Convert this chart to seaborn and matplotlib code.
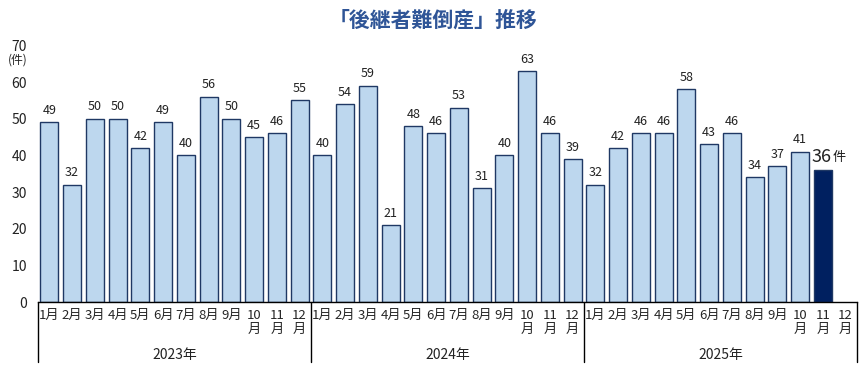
import matplotlib
matplotlib.use("Agg")
import matplotlib.pyplot as plt
import matplotlib.transforms as mtransforms
import seaborn as sns
import pandas as pd

years = ["2023年", "2024年", "2025年"]
months = ["1月", "2月", "3月", "4月", "5月", "6月", "7月", "8月", "9月", "10\n月", "11\n月", "12\n月"]
counts_2023 = [49, 32, 50, 50, 42, 49, 40, 56, 50, 45, 46, 55]
counts_2024 = [40, 54, 59, 21, 48, 46, 53, 31, 40, 63, 46, 39]
counts_2025 = [32, 42, 46, 46, 58, 43, 46, 34, 37, 41, 36, None]
latest_idx = 34

vals = counts_2023 + counts_2024 + counts_2025
df = pd.DataFrame({
    "slot": [str(i) for i in range(len(vals))],
    "count": vals,
    "kind": ["latest" if i == latest_idx else "normal" for i in range(len(vals))],
})

sns.set_style("white")
plt.rcParams["font.family"] = ["Noto Sans CJK JP", "DejaVu Sans"]

fig = plt.figure(figsize=(8.67, 3.78), dpi=100)
ax = fig.add_axes([0.0438, 0.201, 0.9447, 0.679])

light = "#bdd7ee"
navy = "#002060"
edge = "#1f3864"
sns.barplot(data=df, x="slot", y="count", hue="kind",
            palette={"normal": light, "latest": navy}, dodge=False, saturation=1,
            width=0.8, edgecolor=edge, linewidth=1.0, legend=False, ax=ax)

ax.set_xlim(-0.5, len(vals) - 0.5)
ax.set_ylim(0, 70)
ax.set_xlabel("")
ax.set_ylabel("")
ax.set_yticks(range(0, 71, 10))
ax.tick_params(axis="y", length=0, labelsize=10, colors="#222222", pad=8)
for s in ["top", "right", "left"]:
    ax.spines[s].set_visible(False)
ax.spines["bottom"].set_color("#000000")
ax.spines["bottom"].set_linewidth(1.0)

ax.set_xticks(range(len(vals)))
ax.set_xticklabels(months * 3, fontsize=9.5, linespacing=1.05, va="top")
ax.tick_params(axis="x", length=0, pad=5)

fig.text(0.021, 0.842, "(件)", ha="center", va="center", fontsize=8.5, color="#222222")

for i, v in enumerate(vals):
    if v is None:
        continue
    if i == latest_idx:
        ax.text(i - 0.05, v + 1, str(v), ha="center", va="bottom", fontsize=13, color="#222222")
        ax.text(i + 0.42, v + 1.6, "件", ha="left", va="bottom", fontsize=9.5, color="#222222")
    else:
        ax.text(i, v + 1.5, str(v), ha="center", va="bottom", fontsize=9, color="#222222")

trans = mtransforms.blended_transform_factory(ax.transData, ax.transAxes)
for b in [-0.5, 11.5, 23.5, 35.5]:
    ax.plot([b, b], [0, -0.234], transform=trans, color="#000000", lw=1.0, clip_on=False)
for k, y in enumerate(years):
    ax.text(k * 12 + 5.5, -0.206, y, transform=trans, ha="center", va="center",
            fontsize=10, color="#222222")

fig.text(0.5, 0.948, "「後継者難倒産」推移", ha="center", va="center",
         fontsize=15, fontweight="bold", color="#2f5597")

fig.savefig("out.png", dpi=100)
